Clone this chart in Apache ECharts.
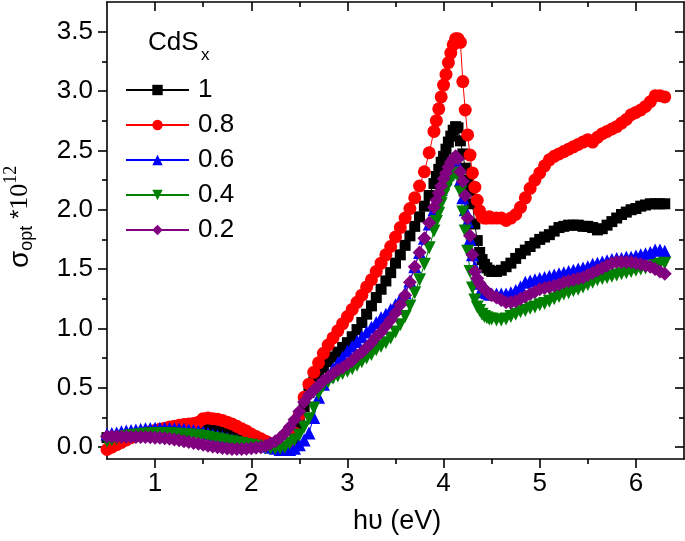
<!DOCTYPE html>
<html><head><meta charset="utf-8">
<script src="https://cdn.jsdelivr.net/npm/echarts@6/dist/echarts.min.js"></script>
<style>html,body{margin:0;padding:0;background:#fff}#c{width:685px;height:541px}</style>
</head><body><div id="c"></div>
<script>
// photon energy (eV)
const energy = [
0.5,0.55,0.6,0.65,0.7,0.75,0.8,0.85,0.9,0.95,
1.0,1.05,1.1,1.15,1.2,1.25,1.3,1.35,1.4,1.45,
1.5,1.55,1.6,1.65,1.7,1.75,1.8,1.85,1.9,1.95,
2.0,2.05,2.1,2.15,2.2,2.25,2.3,2.35,2.4,2.45,
2.5,2.55,2.6,2.65,2.7,2.75,2.8,2.85,2.9,2.95,
3.0,3.05,3.1,3.15,3.2,3.25,3.3,3.35,3.4,3.45,
3.5,3.55,3.6,3.65,3.7,3.75,3.8,3.85,3.9,
3.925,3.95,3.975,4.0,4.025,4.05,4.075,4.1,4.125,4.15,
4.175,4.2,4.225,4.25,4.275,4.3,4.325,4.35,4.375,4.4,
4.425,4.45,4.475,4.5,
4.55,4.6,4.65,4.7,4.75,4.8,4.85,4.9,4.95,5.0,
5.05,5.1,5.15,5.2,5.25,5.3,5.35,5.4,5.45,5.5,
5.55,5.6,5.65,5.7,5.75,5.8,5.85,5.9,5.95,6.0,
6.05,6.1,6.15,6.2,6.25,6.3];
// sigma_opt * 1e12 for CdS_x
const x1_0 = [
0.08,0.085,0.09,0.095,0.1,0.1,0.105,0.105,0.11,0.11,
0.115,0.115,0.12,0.12,0.125,0.125,0.13,0.135,0.14,0.15,
0.17,0.17,0.16,0.15,0.135,0.12,0.105,0.09,0.075,0.06,
0.05,0.04,0.03,0.025,0.02,0.01,-0.005,-0.01,0.0,0.06,
0.2,0.34,0.46,0.55,0.62,0.67,0.72,0.76,0.8,0.84,
0.88,0.93,0.99,1.05,1.12,1.19,1.26,1.33,1.40,1.47,
1.55,1.62,1.70,1.78,1.86,1.94,2.03,2.12,2.22,
2.28,2.34,2.40,2.45,2.51,2.57,2.62,2.67,2.70,2.69,
2.58,2.47,2.35,2.25,2.16,2.05,1.88,1.74,1.64,1.58,
1.54,1.51,1.49,1.48,
1.48,1.49,1.52,1.55,1.59,1.63,1.66,1.69,1.72,1.75,
1.77,1.79,1.82,1.85,1.86,1.87,1.87,1.87,1.86,1.86,
1.85,1.83,1.84,1.87,1.90,1.93,1.96,1.98,2.00,2.01,
2.03,2.04,2.05,2.05,2.05,2.05];
const x0_8 = [
-0.02,0.0,0.02,0.04,0.06,0.08,0.095,0.11,0.12,0.13,
0.14,0.15,0.16,0.17,0.175,0.185,0.19,0.195,0.2,0.21,
0.24,0.245,0.24,0.235,0.225,0.21,0.195,0.175,0.155,0.135,
0.11,0.09,0.07,0.05,0.03,0.01,-0.01,-0.02,0.0,0.12,
0.27,0.42,0.53,0.63,0.71,0.79,0.86,0.92,0.98,1.04,
1.1,1.16,1.22,1.28,1.35,1.41,1.48,1.55,1.62,1.69,
1.77,1.85,1.93,2.01,2.1,2.2,2.32,2.48,2.66,
2.75,2.85,2.95,3.05,3.14,3.24,3.32,3.39,3.44,3.44,
3.41,3.08,2.84,2.63,2.46,2.31,2.19,2.08,1.99,1.94,
1.93,1.93,1.94,1.93,
1.93,1.93,1.91,1.93,1.96,2.02,2.10,2.18,2.25,2.31,
2.37,2.42,2.45,2.47,2.49,2.51,2.53,2.55,2.57,2.59,
2.57,2.61,2.64,2.66,2.68,2.70,2.73,2.76,2.80,2.82,
2.84,2.87,2.91,2.96,2.96,2.95];
const x0_6 = [
0.11,0.115,0.12,0.13,0.135,0.14,0.145,0.15,0.155,0.158,
0.16,0.16,0.16,0.158,0.155,0.152,0.15,0.145,0.14,0.133,
0.125,0.115,0.105,0.095,0.085,0.075,0.065,0.055,0.045,0.037,
0.03,0.022,0.015,0.008,0.0,-0.01,-0.02,-0.02,-0.02,-0.01,
0.02,0.06,0.12,0.25,0.42,0.53,0.6,0.66,0.71,0.76,
0.81,0.85,0.89,0.93,0.97,1.01,1.05,1.09,1.12,1.16,
1.2,1.25,1.3,1.4,1.52,1.64,1.76,1.88,2.0,
2.06,2.11,2.17,2.22,2.26,2.3,2.33,2.36,2.38,2.38,
2.25,2.1,2.0,1.9,1.75,1.62,1.52,1.43,1.38,1.34,
1.31,1.30,1.29,1.29,
1.29,1.29,1.29,1.30,1.32,1.35,1.39,1.40,1.41,1.42,
1.43,1.44,1.45,1.46,1.47,1.48,1.49,1.50,1.51,1.52,
1.54,1.55,1.56,1.57,1.58,1.59,1.59,1.60,1.60,1.61,
1.62,1.63,1.64,1.66,1.66,1.65];
const x0_4 = [
0.05,0.06,0.07,0.08,0.09,0.095,0.1,0.105,0.11,0.11,
0.115,0.115,0.115,0.112,0.11,0.108,0.105,0.102,0.1,0.095,
0.09,0.083,0.075,0.068,0.06,0.052,0.045,0.037,0.03,0.022,
0.015,0.008,0.0,-0.005,-0.01,-0.012,-0.01,0.0,0.03,0.06,
0.1,0.17,0.24,0.33,0.45,0.52,0.55,0.58,0.6,0.62,
0.64,0.66,0.69,0.72,0.75,0.78,0.82,0.85,0.88,0.92,
0.97,1.03,1.1,1.19,1.3,1.41,1.54,1.68,1.82,
1.9,1.97,2.05,2.12,2.17,2.22,2.26,2.29,2.31,2.28,
2.15,1.98,1.82,1.65,1.48,1.34,1.24,1.18,1.15,1.12,
1.10,1.09,1.08,1.08,
1.07,1.07,1.08,1.10,1.12,1.14,1.15,1.17,1.18,1.20,
1.21,1.23,1.25,1.27,1.29,1.30,1.32,1.33,1.35,1.37,
1.39,1.41,1.42,1.43,1.44,1.45,1.46,1.47,1.48,1.49,
1.50,1.51,1.52,1.53,1.54,1.55];
const x0_2 = [
0.09,0.09,0.09,0.088,0.087,0.086,0.085,0.085,0.085,0.083,
0.08,0.078,0.075,0.07,0.065,0.058,0.05,0.043,0.035,0.028,
0.02,0.012,0.005,-0.002,-0.008,-0.012,-0.015,-0.016,-0.015,-0.013,
-0.01,-0.005,0.0,0.012,0.03,0.05,0.08,0.12,0.17,0.23,
0.3,0.38,0.44,0.48,0.52,0.56,0.59,0.62,0.65,0.67,
0.7,0.73,0.77,0.8,0.84,0.88,0.93,0.97,1.02,1.07,
1.13,1.2,1.28,1.39,1.52,1.64,1.76,1.89,2.02,
2.08,2.14,2.2,2.26,2.31,2.36,2.4,2.43,2.45,2.43,
2.32,2.24,2.12,1.93,1.78,1.62,1.48,1.42,1.38,1.35,
1.33,1.31,1.29,1.28,
1.26,1.24,1.22,1.22,1.23,1.25,1.27,1.29,1.31,1.33,
1.34,1.35,1.36,1.37,1.39,1.40,1.41,1.42,1.43,1.45,
1.47,1.49,1.51,1.53,1.55,1.56,1.56,1.56,1.56,1.55,
1.54,1.53,1.52,1.50,1.48,1.46];
const seriesNames = ['1','0.8','0.6','0.4','0.2'];
const xTicks = [1,2,3,4,5,6];
const xMinorTicks = [1.5,2.5,3.5,4.5,5.5];
const yTicks = [0,0.5,1,1.5,2,2.5,3,3.5];
const yMinorTicks = [0.25,0.75,1.25,1.75,2.25,2.75,3.25];

const FONT = 'Liberation Sans';
const SERIF = 'Liberation Serif';
const chart = echarts.init(document.getElementById('c'));
const AX = {color:'#000', width:1.6};

function xAx(pos, vals, len, inside, label, line) {
  return {type:'value', position:pos, min:0.5, max:6.5,
    axisLine:{show:line, onZero:false, lineStyle:AX},
    axisTick:{show:true, inside:inside, length:len, customValues:vals, lineStyle:AX},
    axisLabel:{show:label, customValues:vals, margin:12, fontSize:26, color:'#000', fontFamily:FONT},
    splitLine:{show:false}};
}
function yAx(pos, vals, len, inside, label, line) {
  return {type:'value', position:pos, min:-0.1, max:3.75,
    axisLine:{show:line, onZero:false, lineStyle:AX},
    axisTick:{show:true, inside:inside, length:len, customValues:vals, lineStyle:AX},
    axisLabel:{show:label, customValues:vals, margin:14, fontSize:26, color:'#000', fontFamily:FONT,
      formatter: v => v.toFixed(1)},
    splitLine:{show:false}};
}

const colors = ['#000000','#ff0000','#0000ff','#008000','#800080'];
const symbols = ['rect','circle','triangle','path://M-1,-1L1,-1L0,1Z','path://M0,-1L1,0L0,1L-1,0Z'];
const sizes = [11,13,13,13,14];
const datas = [x1_0, x0_8, x0_6, x0_4, x0_2];

const series = datas.map((ys, k) => ({
  name: seriesNames[k], type:'line', xAxisIndex:0, yAxisIndex:0,
  data: energy.map((x,i)=>[x, ys[i]]),
  symbol: symbols[k], symbolSize: sizes[k], showSymbol:true, showAllSymbol:true,
  itemStyle:{color:colors[k]}, lineStyle:{color:colors[k], width:1},
  emphasis:{disabled:true}, animation:false
}));

// text measuring for y title
const ctx = document.createElement('canvas').getContext('2d');
function tw(t, size, fam){ ctx.font = size+'px "'+fam+'"'; return ctx.measureText(t).width; }
const parts = [
  {t:'σ', s:28, f:FONT, dy:0},
  {t:'opt', s:18, f:FONT, dy:7},
  {t:' *', s:24, f:FONT, dy:0},
  {t:'10', s:26, f:SERIF, dy:0},
  {t:'12', s:18, f:SERIF, dy:-9}
];
let u = 0; const kids = [];
parts.forEach(p => { kids.push({type:'text', x:u, y:p.dy, style:{text:p.t, font:p.s+'px "'+p.f+'"', fill:'#000', verticalAlign:'middle'}}); u += tw(p.t,p.s,p.f); });

chart.setOption({
  animation:false,
  grid:{left:107, right:1, top:2, bottom:82, containLabel:false},
  xAxis:[xAx('bottom',xTicks,9,false,true,true), xAx('bottom',xMinorTicks,5,false,false,false),
         xAx('top',xTicks,9,true,false,true), xAx('top',xMinorTicks,5,true,false,false)],
  yAxis:[yAx('left',yTicks,9,false,true,true), yAx('left',yMinorTicks,5,false,false,false),
         yAx('right',yTicks,9,true,false,true), yAx('right',yMinorTicks,5,true,false,false)],
  legend:{orient:'vertical', left:120, top:72, itemWidth:63, itemHeight:13, itemGap:9,
    data:seriesNames, textStyle:{fontSize:26, color:'#000', fontFamily:FONT, padding:[0,0,0,4]}},
  graphic:[
    {type:'text', left:148, top:30, style:{text:'CdS', font:'26px "'+FONT+'"', fill:'#000'}},
    {type:'text', left:201, top:47, style:{text:'x', font:'17px "'+FONT+'"', fill:'#000'}},
    {type:'text', left:353, top:508, style:{text:'hυ (eV)', font:'27px "'+FONT+'"', fill:'#000'}},
    {type:'group', x:20, y:268, rotation:Math.PI/2, children:kids}
  ],
  series: series
});
</script></body></html>
